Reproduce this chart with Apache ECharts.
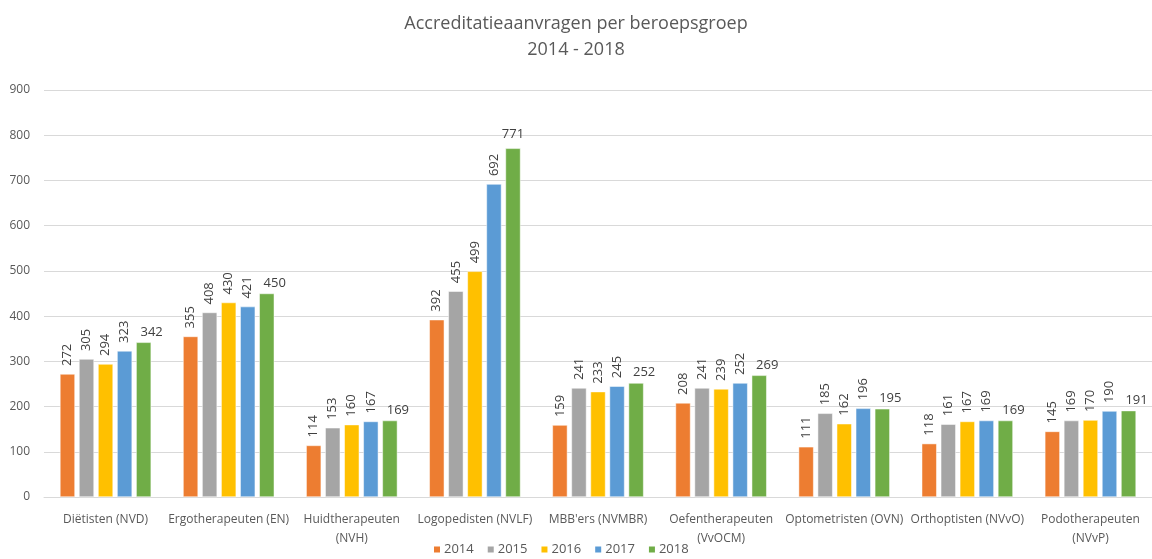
<!DOCTYPE html>
<html><head><meta charset="utf-8">
<script src="https://cdn.jsdelivr.net/npm/echarts@6/dist/echarts.min.js"></script>
<style>html,body{margin:0;padding:0;background:#fff}#c{width:1152px;height:559px}</style>
</head><body><div id="c"></div>
<script>
const categories = ["Diëtisten (NVD)", "Ergotherapeuten (EN)", "Huidtherapeuten\n(NVH)", "Logopedisten (NVLF)", "MBB'ers (NVMBR)", "Oefentherapeuten\n(VvOCM)", "Optometristen (OVN)", "Orthoptisten (NVvO)", "Podotherapeuten\n(NVvP)"];
const years = ["2014", "2015", "2016", "2017", "2018"];
const v2014 = [272, 355, 114, 392, 159, 208, 111, 118, 145];
const v2015 = [305, 408, 153, 455, 241, 241, 185, 161, 169];
const v2016 = [294, 430, 160, 499, 233, 239, 162, 167, 170];
const v2017 = [323, 421, 167, 692, 245, 252, 196, 169, 190];
const v2018 = [342, 450, 169, 771, 252, 269, 195, 169, 191];
const yTicks = [0, 100, 200, 300, 400, 500, 600, 700, 800, 900];

const colors = ["#ED7D31", "#A5A5A5", "#FFC000", "#5B9BD5", "#70AD47"];
const allVals = [v2014, v2015, v2016, v2017, v2018];
const font = "'Open Sans', sans-serif";

const series = allVals.map((vals, i) => {
  const last = i === 4;
  return {
    name: years[i],
    type: 'bar',
    barWidth: 15,
    barGap: '27%',
    itemStyle: { color: colors[i], borderColor: '#fff', borderWidth: 0.5 },
    data: vals.map((v, j) => {
      if (last && j === 3) return { value: v, label: { offset: [0, -4] } };
      return v;
    }),
    label: last ? {
      show: true, position: 'top', distance: 4, offset: [8, 0],
      color: '#404040', fontSize: 13, fontFamily: font
    } : {
      show: true, position: 'top', rotate: 90, align: 'left', verticalAlign: 'middle',
      distance: 8, color: '#404040', fontSize: 13, fontFamily: font
    }
  };
});

const chart = echarts.init(document.getElementById('c'));
chart.setOption({
  animation: false,
  color: colors,
  title: {
    text: 'Accreditatieaanvragen per beroepsgroep\n2014 - 2018',
    left: 'center', top: 6,
    textStyle: { fontSize: 18, fontWeight: 'normal', color: '#595959', fontFamily: font, lineHeight: 26 }
  },
  legend: {
    bottom: 3, left: 432, padding: 0, itemWidth: 8, itemHeight: 8, itemGap: 12,
    icon: 'rect',
    textStyle: { fontSize: 13, color: '#595959', fontFamily: font, padding: [0, 0, 0, -2] },
    data: years
  },
  grid: [
    { left: 44, right: -4, top: 90, bottom: 62, containLabel: false },
    { left: 44, right: 0, top: 90, bottom: 62, containLabel: false }
  ],
  xAxis: [{
    type: 'category', data: categories, gridIndex: 0,
    axisLine: { lineStyle: { color: '#D9D9D9' } },
    axisTick: { show: false },
    axisLabel: { color: '#595959', fontSize: 12, fontFamily: font, interval: 0, margin: 13, lineHeight: 19 }
  }, {
    type: 'category', data: categories, gridIndex: 1, show: false
  }],
  yAxis: [{
    type: 'value', gridIndex: 0, min: yTicks[0], max: yTicks[yTicks.length - 1], interval: 100,
    axisLine: { show: false }, axisTick: { show: false },
    splitLine: { show: false },
    axisLabel: { color: '#595959', fontSize: 12, fontFamily: font, margin: 14 }
  }, {
    type: 'value', gridIndex: 1, min: yTicks[0], max: yTicks[yTicks.length - 1], interval: 100, z: 0,
    axisLine: { show: false }, axisTick: { show: false }, axisLabel: { show: false },
    splitLine: { lineStyle: { color: '#D9D9D9' } }
  }],
  series: series
});
</script></body></html>
